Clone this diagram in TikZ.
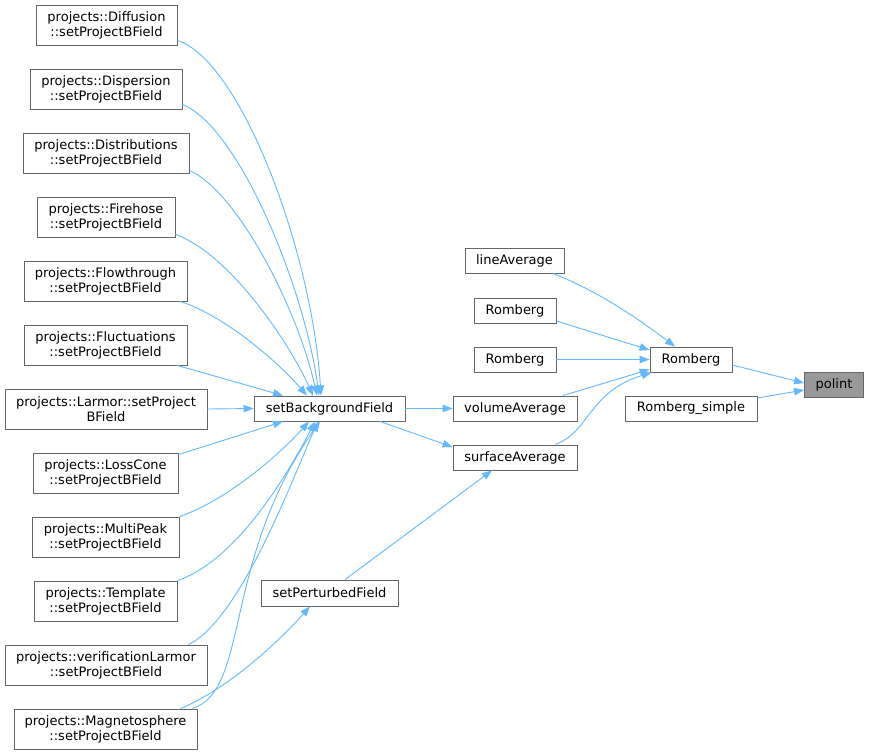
\documentclass[tikz,border=0pt]{standalone}
\usepackage{fontspec}
\setmainfont{DejaVu Sans}
\usetikzlibrary{arrows.meta}
\definecolor{edgeblue}{HTML}{63B8FF}
\definecolor{nodeborder}{HTML}{666666}
\definecolor{hilite}{HTML}{999999}
\tikzset{
  fbox/.style={draw=nodeborder, line width=0.9pt, rectangle, inner sep=0pt, align=center,
    font=\fontsize{13}{15}\selectfont, text=black},
  twol/.style={fbox, minimum height=40pt},
  onel/.style={fbox, minimum height=25pt},
  edge/.style={draw=edgeblue, line width=0.9pt, -{Triangle[length=10pt,width=7.5pt]}},
}
\begin{document}
\begin{tikzpicture}[x=1pt,y=-1pt]
\useasboundingbox (0,0) rectangle (869,755);
% left column
\node[twol, minimum width=141pt] (diff) at (106.5,25) {projects::Diffusion\\::setProjectBField};
\node[twol, minimum width=152pt] (disp) at (106,89) {projects::Dispersion\\::setProjectBField};
\node[twol, minimum width=166pt] (dist) at (106,153) {projects::Distributions\\::setProjectBField};
\node[twol, minimum width=138pt] (fire) at (106,217) {projects::Firehose\\::setProjectBField};
\node[twol, minimum width=163pt] (flow) at (105.5,281) {projects::Flowthrough\\::setProjectBField};
\node[twol, minimum width=163pt] (fluc) at (105.5,345) {projects::Fluctuations\\::setProjectBField};
\node[twol, minimum width=202pt] (larm) at (106,409) {projects::Larmor::setProject\\BField};
\node[twol, minimum width=145pt] (loss) at (105.5,473) {projects::LossCone\\::setProjectBField};
\node[twol, minimum width=147pt] (mult) at (105.5,537) {projects::MultiPeak\\::setProjectBField};
\node[twol, minimum width=143pt] (temp) at (105.5,601) {projects::Template\\::setProjectBField};
\node[twol, minimum width=202pt] (veri) at (106,665) {projects::verificationLarmor\\::setProjectBField};
\node[twol, minimum width=183pt] (magn) at (105.5,729) {projects::Magnetosphere\\::setProjectBField};
% middle
\node[onel, minimum width=151pt] (sbf) at (329.5,408.5) {setBackgroundField};
\node[onel, minimum width=137pt, minimum height=26pt] (spf) at (329.5,593) {setPerturbedField};
\node[onel, minimum width=99pt] (line) at (514.5,260.5) {lineAverage};
\node[onel, minimum width=82pt] (rb1) at (515,310.5) {Romberg};
\node[onel, minimum width=82pt] (rb2) at (515,359.5) {Romberg};
\node[onel, minimum width=124pt] (vol) at (515,408.5) {volumeAverage};
\node[onel, minimum width=124pt] (surf) at (515,457.5) {surfaceAverage};
\node[onel, minimum width=82pt] (rom) at (691,359.5) {Romberg};
\node[onel, minimum width=132pt] (rsim) at (691,408.5) {Romberg\_simple};
\node[onel, minimum width=59pt, fill=hilite] (pol) at (834,384.5) {polint};
% edges into setBackgroundField (top)
\draw[edge] ([yshift=5pt]diff.south east) .. controls (240,60) and (312,250) .. ([xshift=-8.5pt]sbf.north);
\draw[edge] ([yshift=5pt]disp.south east) .. controls (240,128) and (305,290) .. ([xshift=-10.5pt]sbf.north);
\draw[edge] ([yshift=3pt]dist.south east) .. controls (238,192) and (298,310) .. ([xshift=-12.5pt]sbf.north);
\draw[edge] ([yshift=3pt]fire.south east) .. controls (228,253) and (288,340) .. ([xshift=-16.5pt]sbf.north);
\draw[edge] ([xshift=-7pt]flow.south east) .. controls (225,316) and (278,362) .. ([xshift=-22.5pt]sbf.north);
\draw[edge] ([xshift=-10pt]fluc.south east) -- ([xshift=-46.5pt]sbf.north);
\draw[edge] (larm.east) -- (sbf.west);
% edges into setBackgroundField (bottom)
\draw[edge] ([yshift=-2pt]loss.north east) -- ([xshift=-46.5pt]sbf.south);
\draw[edge] (mult.north east) .. controls (228,500) and (282,452) .. ([xshift=-20.5pt]sbf.south);
\draw[edge] (temp.north east) .. controls (238,560) and (290,470) .. ([xshift=-14.5pt]sbf.south);
\draw[edge] ([xshift=-19pt]veri.north east) .. controls (240,620) and (292,480) .. ([xshift=-11.5pt]sbf.south);
\draw[edge] ([xshift=-5pt]magn.north east) .. controls (250,690) and (222,560) .. ([xshift=-9.5pt]sbf.south);
\draw[edge] ([xshift=-17pt]magn.north east) .. controls (230,688) and (280,640) .. ([xshift=-19.5pt]spf.south);
% middle edges
\draw[edge] (sbf.east) -- (vol.west);
\draw[edge] ([xshift=50.5pt]sbf.south) -- ([yshift=10.5pt]surf.west);
\draw[edge] ([xshift=15.5pt]spf.north) -- ([xshift=-23pt]surf.south);
% into Romberg
\draw[edge] ([xshift=38.5pt]line.south) .. controls (600,292) and (640,320) .. ([xshift=-16pt]rom.north);
\draw[edge] ([yshift=-10.5pt]rb1.east) -- ([yshift=9.5pt]rom.west);
\draw[edge] (rb2.east) -- (rom.west);
\draw[edge] ([xshift=48pt]vol.north) -- ([yshift=3pt]rom.south west);
\draw[edge] ([xshift=40pt]surf.north) .. controls (590,432) and (588,392) .. ([xshift=2pt]rom.south west);
% into polint
\draw[edge] ([yshift=-5.5pt]rom.east) -- ([yshift=1.5pt]pol.west);
\draw[edge] ([yshift=10.5pt]rsim.east) -- ([yshift=-5.5pt]pol.west);
\end{tikzpicture}
\end{document}
